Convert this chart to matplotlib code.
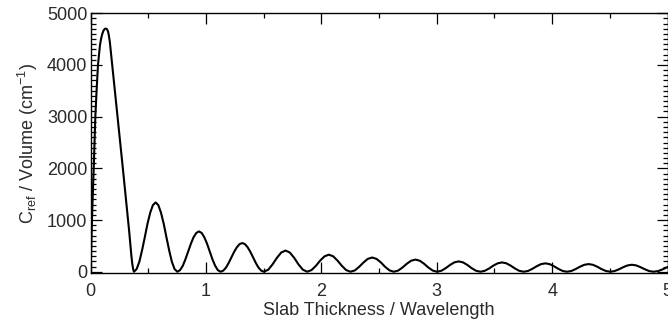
import matplotlib
matplotlib.use("Agg")
import matplotlib.pyplot as plt
from matplotlib.ticker import MultipleLocator

# values
# first (big) lobe
lobe1_x = [0.000, 0.005, 0.011, 0.018, 0.026, 0.033, 0.040, 0.052, 0.063, 0.072,
           0.080, 0.090, 0.100, 0.110, 0.120, 0.130, 0.140, 0.150, 0.158, 0.166,
           0.175, 0.184, 0.210, 0.236, 0.258, 0.279, 0.300, 0.322, 0.333, 0.343,
           0.352, 0.360, 0.367, 0.372]
lobe1_y = [0, 500, 1000, 1500, 2000, 2500, 3000, 3550, 4000, 4200,
           4380, 4510, 4600, 4660, 4695, 4705, 4695, 4650, 4560, 4440,
           4250, 4050, 3490, 2920, 2450, 1990, 1530, 1060, 790, 530,
           320, 160, 60, 14]

# the next three ripples
ripple_x = [
    0.375, 0.398, 0.422, 0.445, 0.469, 0.492, 0.516, 0.539,
    0.563, 0.586, 0.609, 0.633, 0.656, 0.680, 0.703, 0.727,
    0.751, 0.774, 0.798, 0.821, 0.845, 0.868, 0.891, 0.915,
    0.938, 0.962, 0.985, 1.009, 1.032, 1.055, 1.079, 1.102,
    1.126, 1.149, 1.173, 1.196, 1.220, 1.243, 1.267, 1.290,
    1.314, 1.337, 1.360, 1.384, 1.407, 1.431, 1.454, 1.478,
]
ripple_y = [
    0, 51, 196, 414, 670, 926, 1144, 1289,
    1340, 1289, 1144, 926, 670, 414, 196, 51,
    0, 30, 114, 241, 390, 539, 666, 750,
    780, 750, 666, 539, 390, 241, 114, 30,
    0, 21, 81, 171, 278, 384, 474, 534,
    555, 534, 474, 384, 278, 171, 81, 21,
]

# the small ripples further out
tail_x = [
    1.501, 1.539, 1.576, 1.614, 1.651, 1.689, 1.726, 1.764, 1.801, 1.839,
    1.877, 1.914, 1.952, 1.989, 2.027, 2.064, 2.102, 2.139, 2.177, 2.214,
    2.252, 2.290, 2.327, 2.365, 2.402, 2.440, 2.477, 2.515, 2.552, 2.590,
    2.627, 2.665, 2.702, 2.740, 2.777, 2.815, 2.852, 2.890, 2.927, 2.965,
    3.002, 3.040, 3.077, 3.115, 3.152, 3.190, 3.227, 3.265, 3.302, 3.340,
    3.378, 3.415, 3.453, 3.490, 3.528, 3.565, 3.603, 3.640, 3.678, 3.715,
    3.753, 3.791, 3.828, 3.866, 3.903, 3.941, 3.978, 4.016, 4.053, 4.091,
    4.128, 4.166, 4.203, 4.241, 4.278, 4.316, 4.353, 4.391, 4.428, 4.466,
    4.504, 4.541, 4.579, 4.616, 4.654, 4.691, 4.729, 4.766, 4.804, 4.841,
    4.879, 4.917, 4.954, 4.992, 5.029,
]
tail_y = [
    0, 39, 142, 268, 371, 410, 371, 268, 142, 39,
    0, 32, 114, 216, 298, 330, 298, 216, 114, 32,
    0, 26, 95, 180, 249, 275, 249, 180, 95, 26,
    0, 22, 81, 154, 213, 235, 213, 154, 81, 22,
    0, 19, 69, 131, 181, 200, 181, 131, 69, 19,
    0, 17, 62, 118, 163, 180, 163, 118, 62, 17,
    0, 15, 56, 106, 147, 162, 147, 106, 56, 15,
    0, 14, 51, 97, 134, 148, 134, 97, 51, 14,
    0, 13, 47, 88, 122, 135, 122, 88, 47, 13,
    0, 12, 43, 82, 113,
]

x_ticks = [0, 1, 2, 3, 4, 5]
y_ticks = [0, 1000, 2000, 3000, 4000, 5000]

plt.rcParams["font.family"] = ["Liberation Sans", "DejaVu Sans"]
plt.rcParams["mathtext.fontset"] = "custom"
plt.rcParams["mathtext.rm"] = "Liberation Sans"
plt.rcParams["mathtext.it"] = "Liberation Sans:italic"
plt.rcParams["mathtext.default"] = "regular"

TEXT = "#2a2a2a"

fig = plt.figure(figsize=(6.68, 3.2), dpi=100)
ax = fig.add_axes([0.1358, 0.146, 0.8635, 0.8125])

ax.plot(lobe1_x + ripple_x + tail_x, lobe1_y + ripple_y + tail_y,
        color="black", lw=1.5, solid_joinstyle="round")

ax.set_xlim(0, 5)
ax.set_ylim(-30, 5000)
ax.set_xticks(x_ticks)
ax.set_yticks(y_ticks)
ax.xaxis.set_minor_locator(MultipleLocator(0.5))
ax.yaxis.set_minor_locator(MultipleLocator(100))

ax.tick_params(which="both", direction="in", top=True, right=True,
               colors="black", labelcolor=TEXT, labelsize=13, width=0.9)
ax.tick_params(which="major", length=8)
ax.tick_params(which="minor", length=3.6)
ax.tick_params(axis="x", which="major", pad=7)
ax.tick_params(axis="y", which="major", pad=2.5)

for sp in ax.spines.values():
    sp.set_linewidth(1.0)

ax.set_xlabel("Slab Thickness / Wavelength", fontsize=13, color=TEXT)
ax.set_ylabel("C$_{ref}$ / Volume (cm$^{-1}$)", fontsize=13, color=TEXT)
ax.xaxis.set_label_coords(0.5, -0.112)
ax.yaxis.set_label_coords(-0.088, 0.5)

fig.savefig("out.png", dpi=100)
